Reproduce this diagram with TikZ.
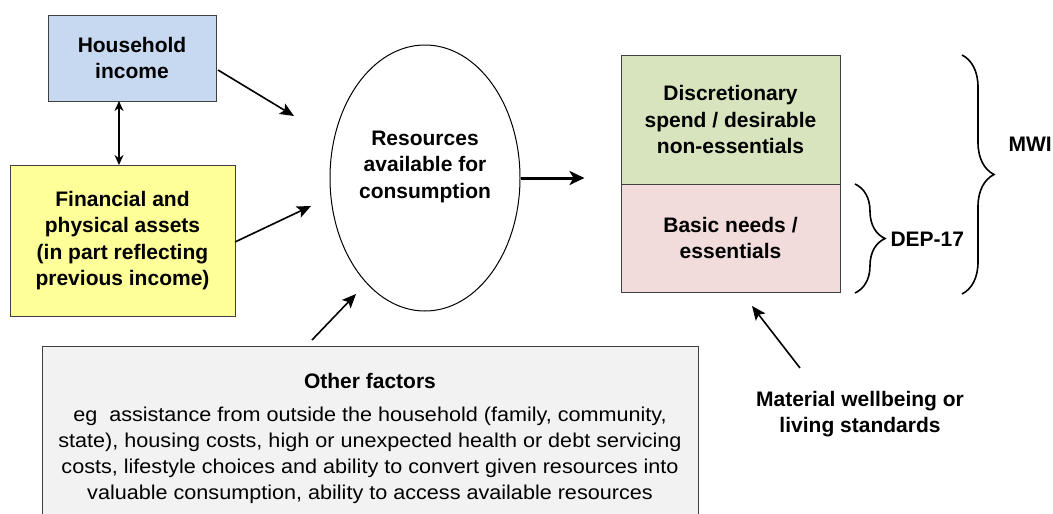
\documentclass[tikz,border=0pt]{standalone}
\usepackage{fontspec}
\setmainfont{Liberation Sans}
\newfontfamily\bodyfont[FakeStretch=1.08]{Liberation Sans}
\usetikzlibrary{arrows.meta,decorations.pathreplacing,shapes.geometric}
\definecolor{hblue}{HTML}{C6D9F1}
\definecolor{ayellow}{HTML}{FFFF99}
\definecolor{dgreen}{HTML}{D7E4BD}
\definecolor{bpink}{HTML}{F2DCDB}
\definecolor{ogray}{HTML}{F2F2F2}
\definecolor{bord}{HTML}{404040}
\begin{document}
\begin{tikzpicture}[x=1pt,y=-1pt,
  bfs/.style={font=\fontsize{21}{26.5}\selectfont\bfseries},
  box/.style={draw=bord,line width=1pt,align=center,inner sep=0pt,bfs},
  arr/.style={line width=1.6pt,-{Stealth[length=14pt,width=12pt,inset=3pt]}},
  brc/.style={line width=1.6pt,decorate,decoration={brace,amplitude=#1}}]
\useasboundingbox (0,0) rectangle (1053,514);
\node[box,fill=hblue,minimum width=168pt,minimum height=86pt] (hi) at (132,58) {Household\\income};
\node[box,fill=ayellow,minimum width=225pt,minimum height=151pt] (fa) at (122.5,240.5) {Financial and\\physical assets\\(in part reflecting\\previous income)};
\node[draw,line width=1pt,ellipse,minimum width=190pt,minimum height=266pt,inner sep=0pt] (res) at (425,178) {};
\node[align=center,bfs] (rest) at (425,166.5) {Resources\\available for\\consumption};
\node[box,fill=dgreen,minimum width=219pt,minimum height=129pt] (disc) at (730.5,119.5) {Discretionary\\spend / desirable\\non-essentials};
\node[box,fill=bpink,minimum width=219pt,minimum height=108pt] (basic) at (730.5,238) {Basic needs /\\essentials};
\node[draw=bord,line width=1pt,fill=ogray,minimum width=656pt,minimum height=190pt,inner sep=0pt] (of) at (370,441) {};
\node[bfs] (oft) at (370,381) {Other factors};
\node[align=center,font=\bodyfont\fontsize{20}{26}\selectfont] (ofb) at (370,455) {eg\ \ assistance from outside the household (family, community,\\state), housing costs, high or unexpected health or debt servicing\\costs, lifestyle choices and ability to convert given resources into\\valuable consumption, ability to access available resources};
\node[align=center,bfs] (mw) at (860,414) {Material wellbeing or\\living standards};
\node[bfs,anchor=west] (dep) at (887,239) {DEP-17};
\node[bfs,anchor=west] (mwi) at (1005,144) {MWI};
\coordinate (a1s) at (218,70);
\coordinate (a1e) at (294,116);
\coordinate (a2s) at (235,242);
\coordinate (a2e) at (311,206);
\coordinate (a4s) at (312,340);
\coordinate (a4e) at (356,294);
\coordinate (a5s) at (800,368);
\coordinate (a5e) at (752,306);
\coordinate (dt) at (119,101);
\coordinate (db) at (119,165);
\draw[arr] (a1s) -- (a1e);
\draw[arr] (a2s) -- (a2e);
\draw[arr] (a4s) -- (a4e);
\draw[arr] (a5s) -- (a5e);
\draw[line width=1.6pt,{Stealth[length=10pt,width=9pt]}-{Stealth[length=10pt,width=9pt]}] (dt) -- (db);
\draw[line width=3pt,-{Stealth[length=15pt,width=14pt,inset=4pt]}] (res.east) -- ++(64,0) coordinate (a3e);
\coordinate (b1t) at (855,184);
\coordinate (b1b) at (855,293);
\coordinate (b2t) at (962,55);
\coordinate (b2b) at (962,294);
\draw[brc=30pt] (b1t) -- (b1b);
\draw[brc=32pt] (b2t) -- (b2b);
\end{tikzpicture}
\end{document}
